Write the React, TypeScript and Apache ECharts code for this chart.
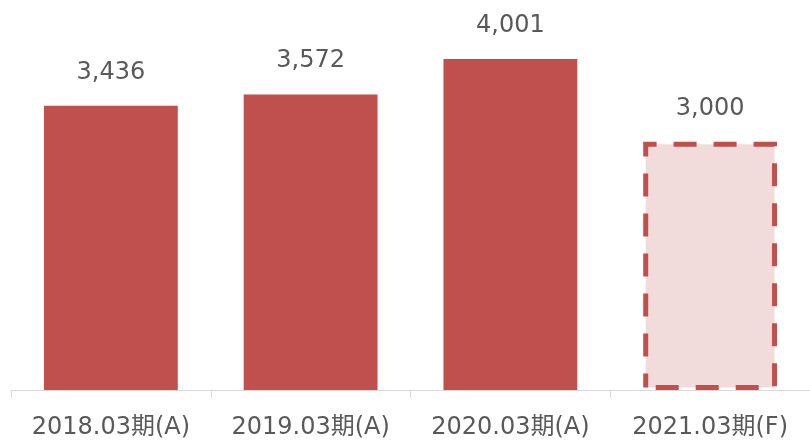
import React, { useEffect, useRef } from "react";
import * as echarts from "echarts";

const categories = ["2018.03期(A)", "2019.03期(A)", "2020.03期(A)", "2021.03期(F)"];
const values = [3436, 3572, 4001, 3000];
const forecastIndex = [3];

const FONT = "'DejaVu Sans', 'Noto Sans CJK JP', sans-serif";

export default function App() {
  const ref = useRef<HTMLDivElement>(null);
  useEffect(() => {
    document.body.style.margin = "0";
    const chart = echarts.init(ref.current!, undefined, { renderer: "svg" });
    const data = values.map((v, i) =>
      forecastIndex.includes(i)
        ? {
            value: v,
            itemStyle: {
              color: "#f2dcdb",
              borderColor: "#c0504d",
              borderWidth: 5,
              borderType: [23, 17],
              borderDashOffset: 30,
            },
          }
        : { value: v }
    );
    chart.setOption({
      animation: false,
      grid: { left: 11, right: -1, top: 17.7, bottom: 51, containLabel: false },
      xAxis: {
        type: "category",
        data: categories,
        axisLine: { lineStyle: { color: "#d9d9d9", width: 1 } },
        axisTick: { show: true, length: 8, lineStyle: { color: "#d9d9d9" } },
        axisLabel: {
          interval: 0,
          color: "#595959",
          fontSize: 24,
          lineHeight: 22,
          fontFamily: FONT,
          margin: 25,
        },
      },
      yAxis: {
        type: "value",
        min: 0,
        max: 4500,
        show: false,
        splitLine: { show: false },
      },
      series: [
        {
          type: "bar",
          data,
          barCategoryGap: "33%",
          itemStyle: { color: "#c0504d" },
          label: {
            show: true,
            position: "top",
            distance: 23,
            color: "#595959",
            fontSize: 24,
            fontFamily: FONT,
            formatter: (p: any) => p.value.toLocaleString("en-US"),
          },
        },
      ],
    });
    return () => chart.dispose();
  }, []);
  return (
    <div
      ref={ref}
      style={{ position: "fixed", left: 0, top: 0, width: 810, height: 441 }}
    />
  );
}
